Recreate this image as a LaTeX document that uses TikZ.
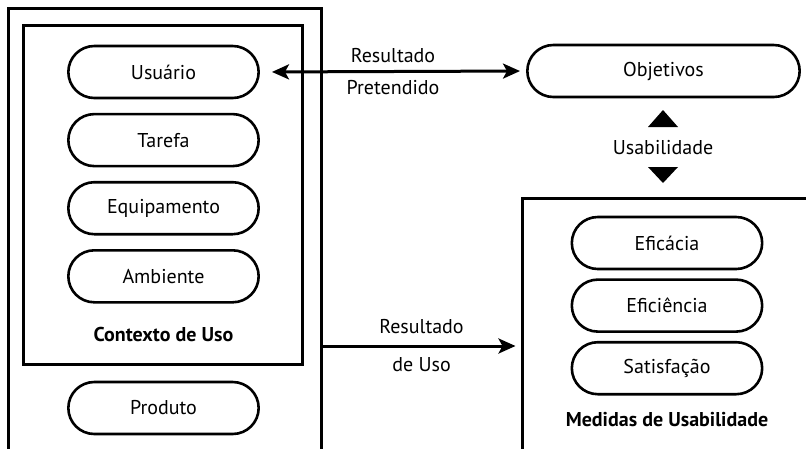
\documentclass[tikz,border=0pt]{standalone}
\usepackage{fontspec}
\setmainfont{PT Sans}
\usepackage{tikz}
\usetikzlibrary{positioning,shapes.misc,arrows.meta}

\tikzset{pill/.style={draw, line width=2.6pt, rounded rectangle, minimum width=197pt, minimum height=52pt, font=\fontsize{20}{24}\selectfont}}
\tikzset{box/.style={draw, line width=3pt, inner sep=0pt}}
\tikzset{arr/.style={line width=3pt, >={Stealth[length=17pt,width=15pt,inset=4pt]}, ->}}
\tikzset{lbl/.style={font=\fontsize{20}{24}\selectfont}}

\begin{document}
\begin{tikzpicture}[x=1pt,y=-1pt]
\useasboundingbox (0,0) rectangle (806,448);
\clip (0,0) rectangle (806,448);
% boxes
\node[box, minimum width=313pt, minimum height=470pt] (outer) at (164.5,243) {};
\node[box, minimum width=279pt, minimum height=339pt] (ctx) at (162.5,194.5) {};
\node[box, minimum width=310pt, minimum height=280pt] (medbox) at (677,338) {};
% context
\node[pill] (usuario) at (163.5,72) {Usuário};
\node[pill, below=13.5pt of usuario] (tarefa) {Tarefa};
\node[pill, below=13.5pt of tarefa] (equip) {Equipamento};
\node[pill, below=13.5pt of equip] (ambiente) {Ambiente};
\node[lbl, font=\fontsize{20}{24}\selectfont\bfseries] (ctxlbl) at (163.5,334) {Contexto de Uso};
\node[pill] (produto) at (163.5,408) {Produto};
% goals
\node[pill, minimum width=279pt] (objetivos) at (663.5,71) {Objetivos};
\node[lbl] (usab) at (663,148) {Usabilidade};
\fill (663,110) -- (678,127) -- (648,127) -- cycle;
\fill (663,183) -- (678,167) -- (648,167) -- cycle;
% measures
\node[pill] (eficacia) at (667,243) {Eficácia};
\node[pill, below=8pt of eficacia] (eficiencia) {Eficiência};
\node[pill, below=8pt of eficiencia] (satisfacao) {Satisfação};
\node[lbl, font=\fontsize{20}{24}\selectfont\bfseries] (medlbl) at (667,420) {Medidas de Usabilidade};
% arrows
\draw[arr, <->, shorten <=12pt, shorten >=6pt] (usuario.east) -- (objetivos.west)
  node[lbl, midway, above=4pt] {Resultado} node[lbl, midway, below=4pt] {Pretendido};
\coordinate (uso) at (0,346);
\draw[arr, shorten >=5pt] (outer.east |- uso) -- (medbox.west |- uso)
  node[lbl, midway, above=7pt] {Resultado} node[lbl, midway, below=7pt] {de Uso};
\end{tikzpicture}
\end{document}
